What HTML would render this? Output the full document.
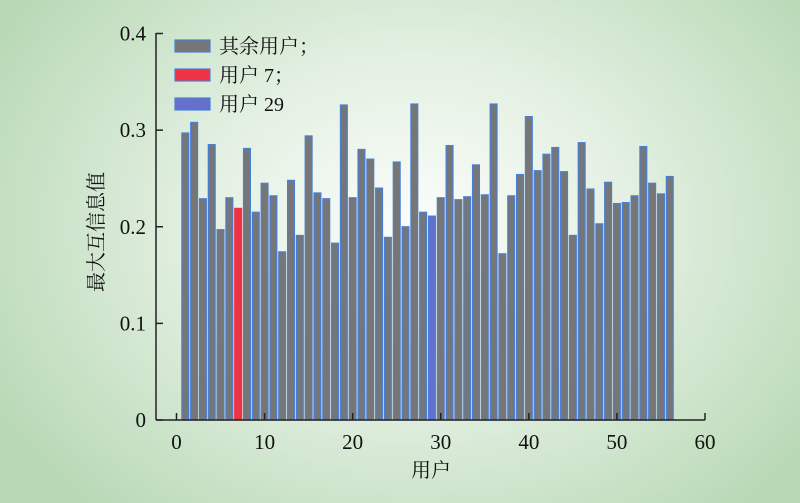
<!DOCTYPE html>
<html><head><meta charset="utf-8"><style>
html,body{margin:0;padding:0;width:800px;height:503px;overflow:hidden}
body{background:radial-gradient(ellipse 60% 75% at 52% 45%,#fbfdfb 0%,#e3f0e2 45%,#b9d9b6 100%)}
svg text{font-family:"Liberation Serif","Noto Serif CJK SC",serif;fill:#111}
</style></head><body>
<svg id="chart" width="800" height="503" xmlns="http://www.w3.org/2000/svg"></svg>
<script>
const users=[];for(let i=1;i<=56;i++)users.push(i);
const values=[0.297,0.308,0.229,0.285,0.197,0.230,0.219,0.281,0.215,0.245,0.232,0.174,0.248,0.191,0.294,0.235,0.229,0.183,0.326,0.230,0.280,0.270,0.240,0.189,0.267,0.200,0.327,0.215,0.211,0.230,0.284,0.228,0.231,0.264,0.233,0.327,0.172,0.232,0.254,0.314,0.258,0.275,0.282,0.257,0.191,0.287,0.239,0.203,0.246,0.224,0.225,0.232,0.283,0.245,0.234,0.252];
const xTicks=[0,10,20,30,40,50,60];
const yTicks=[0,0.1,0.2,0.3,0.4];
const yTickLabels=["0","0.1","0.2","0.3","0.4"];
const legendLabels=["其余用户；","用户 7；","用户 29"];
const NS="http://www.w3.org/2000/svg";
const svg=document.getElementById('chart');
const X=v=>176.5+v*(705-176.5)/60;
const Y=v=>420-v*(420-33.5)/0.4;
function mk(t,a,p){const e=document.createElementNS(NS,t);for(const k in a)e.setAttribute(k,a[k]);(p||svg).appendChild(e);return e;}
const bw=0.78*(X(1)-X(0));
users.forEach((u,i)=>{
  const fill=u===7?'#ee3344':(u===29?'#6670cc':'#767676');
  const stroke=u===7?'#ee3344':'#4a7fd8';
  const r=mk('rect',{x:X(u)-bw/2,y:Y(values[i]),width:bw,height:Y(0)-Y(values[i]),fill:fill,stroke:stroke,'stroke-width':1.2});
  
  
});
const ax=mk('line',{x1:156,y1:420,x2:705,y2:420,stroke:'#222','stroke-width':1.5});


const ay=mk('line',{x1:156,y1:33,x2:156,y2:420,stroke:'#222','stroke-width':1.5});


xTicks.forEach(t=>{
  mk('line',{x1:X(t),y1:420,x2:X(t),y2:413,stroke:'#222','stroke-width':1.5});
  const tx=mk('text',{x:X(t),y:449,'text-anchor':'middle','font-size':21});
  tx.textContent=t;
  
  
});
yTicks.forEach((t,i)=>{
  mk('line',{x1:156,y1:Y(t),x2:163,y2:Y(t),stroke:'#222','stroke-width':1.5});
  const tx=mk('text',{x:146,y:Y(t)+7,'text-anchor':'end','font-size':21});
  tx.textContent=yTickLabels[i];
  
  
});
const xl=mk('text',{x:431,y:477,'text-anchor':'middle','font-size':20});
xl.textContent='用户';


const yl=mk('text',{x:0,y:0,'text-anchor':'middle','font-size':20,transform:'translate(103,232) rotate(-90)'});
yl.textContent='最大互信息值';


const sw=[['#767676','#4a7fd8'],['#ee3344','#4a7fd8'],['#6670cc','#4a7fd8']];
legendLabels.forEach((l,i)=>{
  const cy=46+i*29;
  const g=mk('g',{});
  
  
  mk('rect',{x:175,y:cy-6,width:35,height:12,fill:sw[i][0],stroke:sw[i][1],'stroke-width':1.2},g);
  const t=mk('text',{x:219,y:cy+7,'font-size':20},g);
  t.textContent=l;
});
</script>
</body></html>
